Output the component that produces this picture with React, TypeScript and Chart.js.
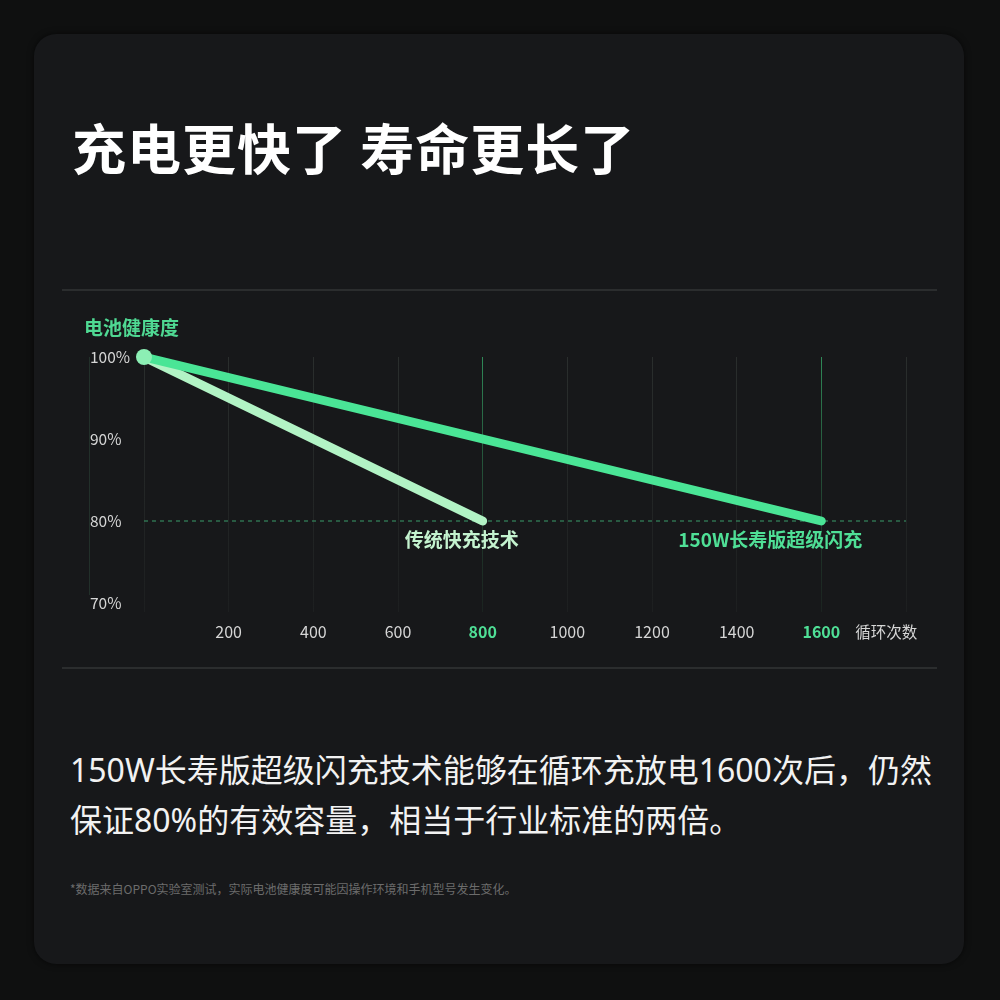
import { useEffect, useRef } from 'react';
import { Chart, registerables } from 'chart.js';

Chart.register(...registerables);

const cycleTicks = [0, 200, 400, 600, 800, 1000, 1200, 1400, 1600, 1800];
const highlightCycles = [800, 1600];
const healthTicks = [70, 80, 90, 100];
const fastCycles = [0, 1600];
const fastHealth = [100, 80];
const legacyCycles = [0, 800];
const legacyHealth = [100, 80];
const thresholdCycles = [0, 1800];
const thresholdHealth = [80, 80];
const seriesNames = ['150W长寿版超级闪充', '传统快充技术'];
const yAxisTitle = '电池健康度';
const xAxisTitle = '循环次数';
const titleText = '充电更快了 寿命更长了';
const bodyLines = ['150W长寿版超级闪充技术能够在循环充放电1600次后，仍然', '保证80%的有效容量，相当于行业标准的两倍。'];
const footnoteText = '*数据来自OPPO实验室测试，实际电池健康度可能因操作环境和手机型号发生变化。';

const FONT = '"Noto Sans CJK SC", "Noto Sans", sans-serif';
const BODY_FONT = '"Noto Sans", "Noto Sans CJK SC", sans-serif';
const GREEN = '#4ae596';
const MINT = '#b2f3c5';

const toPoints = (xs: number[], ys: number[]) => xs.map((v, i) => ({ x: v, y: ys[i] }));

const gridColor = (c: any) => {
  const chart = c.chart;
  const area = chart.chartArea;
  const hi = highlightCycles.includes(c.tick?.value);
  if (!area) return hi ? '#2a5a3e' : '#262929';
  const g = chart.ctx.createLinearGradient(0, area.top, 0, area.bottom + 10);
  if (hi) {
    g.addColorStop(0, '#2f8a58');
    g.addColorStop(1, 'rgba(40,70,52,0.25)');
  } else {
    g.addColorStop(0, '#2a2e2d');
    g.addColorStop(1, '#1d1f20');
  }
  return g;
};

const annotate = {
  id: 'annotate',
  beforeDatasetsDraw(chart: any) {
    const { ctx, scales, chartArea } = chart;
    const y = scales.y;
    ctx.save();
    ctx.strokeStyle = '#22302a';
    ctx.lineWidth = 1;
    ctx.beginPath();
    ctx.moveTo(y.left - 0.5, chartArea.top);
    ctx.lineTo(y.left - 0.5, chartArea.bottom - 8);
    ctx.stroke();
    ctx.restore();
  },
  afterDatasetsDraw(chart: any) {
    const { ctx, scales, chartArea } = chart;
    const x = scales.x;
    const y = scales.y;
    ctx.save();
    ctx.textBaseline = 'middle';
    ctx.textAlign = 'left';
    ctx.font = `bold 19px ${FONT}`;
    ctx.fillStyle = '#4fd993';
    ctx.fillText(yAxisTitle, y.left - 6, chartArea.top - 29);

    ctx.font = `15.5px ${FONT}`;
    ctx.fillStyle = '#d6d6d6';
    ctx.fillText(xAxisTitle, x.getPixelForValue(fastCycles[1]) + 34, chartArea.bottom + 29);

    ctx.textAlign = 'center';
    ctx.font = `bold 19px ${FONT}`;
    const ly = y.getPixelForValue(legacyHealth[1]) + 19;
    ctx.fillStyle = '#c4f3cf';
    ctx.fillText(seriesNames[1], x.getPixelForValue(legacyCycles[1]) - 21, ly);
    ctx.fillStyle = '#4fdf96';
    ctx.fillText(seriesNames[0], x.getPixelForValue(fastCycles[1]) - 51, ly);
    ctx.restore();
  },
};

function BatteryChart() {
  const ref = useRef<HTMLCanvasElement | null>(null);
  useEffect(() => {
    if (!ref.current) return;
    const chart = new Chart(ref.current, {
      type: 'line',
      data: {
        datasets: [
          {
            label: seriesNames[0],
            data: toPoints(fastCycles, fastHealth),
            borderColor: GREEN,
            borderWidth: 9,
            borderCapStyle: 'round',
            pointRadius: (c: any) => (c.dataIndex === 0 ? 8 : 0),
            pointBackgroundColor: '#8cefb4',
            pointBorderWidth: 0,
            clip: false,
          } as any,
          {
            label: seriesNames[1],
            data: toPoints(legacyCycles, legacyHealth),
            borderColor: MINT,
            borderWidth: 9,
            borderCapStyle: 'round',
            pointRadius: 0,
            clip: false,
          } as any,
          {
            label: 'threshold',
            data: toPoints(thresholdCycles, thresholdHealth),
            borderColor: '#3a9c6b',
            borderWidth: 1,
            borderDash: [4, 4],
            pointRadius: 0,
          } as any,
        ],
      },
      options: {
        animation: false,
        responsive: false,
        maintainAspectRatio: false,
        layout: { padding: { left: 30, right: 34, top: 57, bottom: 17 } },
        plugins: { legend: { display: false }, tooltip: { enabled: false } },
        scales: {
          x: {
            type: 'linear',
            min: cycleTicks[0],
            max: cycleTicks[cycleTicks.length - 1],
            afterBuildTicks: (s: any) => {
              s.ticks = cycleTicks.map((v) => ({ value: v }));
            },
            afterFit: (s: any) => {
              s.height = 40;
            },
            border: { display: false },
            grid: {
              drawTicks: true,
              tickLength: 9,
              color: gridColor,
              lineWidth: 1,
            },
            ticks: {
              autoSkip: false,
              maxRotation: 0,
              padding: 10,
              callback: (v: any) => (v === cycleTicks[0] || v === cycleTicks[cycleTicks.length - 1] ? '' : String(v)),
              color: (c: any) => (highlightCycles.includes(c.tick?.value) ? '#4fdf96' : '#d6d6d6'),
              font: (c: any) =>
                highlightCycles.includes(c.tick?.value)
                  ? { family: FONT, size: 16, weight: 'bold' }
                  : { family: FONT, size: 16, weight: 'normal' },
            },
          },
          y: {
            type: 'linear',
            min: healthTicks[0],
            max: healthTicks[healthTicks.length - 1],
            afterBuildTicks: (s: any) => {
              s.ticks = healthTicks.map((v) => ({ value: v }));
            },
            afterFit: (s: any) => {
              s.width = 54;
            },
            border: { display: false },
            grid: { display: false },
            ticks: {
              crossAlign: 'far',
              color: '#d6d6d6',
              font: { family: FONT, size: 15.5 },
              callback: (v: any) => `${v}%`,
            },
          },
        },
      } as any,
      plugins: [annotate],
    });
    return () => chart.destroy();
  }, []);
  return <canvas ref={ref} width={880} height={360} style={{ width: 880, height: 360, display: 'block' }} />;
}

export default function App() {
  return (
    <div
      style={{
        position: 'absolute',
        left: 0,
        top: 0,
        width: 1000,
        height: 1000,
        background: '#0f1010',
        fontFamily: FONT,
        overflow: 'hidden',
      }}
    >
      <div
        style={{
          position: 'absolute',
          left: 34,
          top: 34,
          width: 930,
          height: 930,
          borderRadius: 22,
          background: '#17181a',
          boxShadow: '0 0 6px rgba(0,0,0,0.6)',
        }}
      />
      <div
        style={{
          position: 'absolute',
          left: 72,
          top: 117,
          fontSize: 54,
          lineHeight: '60px',
          fontWeight: 700,
          color: '#ffffff',
          whiteSpace: 'nowrap',
          letterSpacing: 1,
        }}
      >
        {titleText}
      </div>
      <div style={{ position: 'absolute', left: 62, top: 289, width: 875, height: 2, background: '#2b2d2e' }} />
      <div style={{ position: 'absolute', left: 62, top: 667, width: 875, height: 2, background: '#2b2d2e' }} />
      <div style={{ position: 'absolute', left: 60, top: 300, width: 880, height: 360 }}>
        <BatteryChart />
      </div>
      <div
        style={{
          position: 'absolute',
          left: 70,
          top: 745,
          fontSize: 32,
          lineHeight: '50px',
          color: '#f2f2f2',
          whiteSpace: 'nowrap',
          fontFamily: BODY_FONT,
        }}
      >
        {bodyLines.map((l, i) => (
          <div key={i}>{l}</div>
        ))}
      </div>
      <div
        style={{
          position: 'absolute',
          left: 70,
          top: 881,
          fontSize: 12,
          lineHeight: '16px',
          color: '#6c6c6c',
          whiteSpace: 'nowrap',
        }}
      >
        {footnoteText}
      </div>
    </div>
  );
}
